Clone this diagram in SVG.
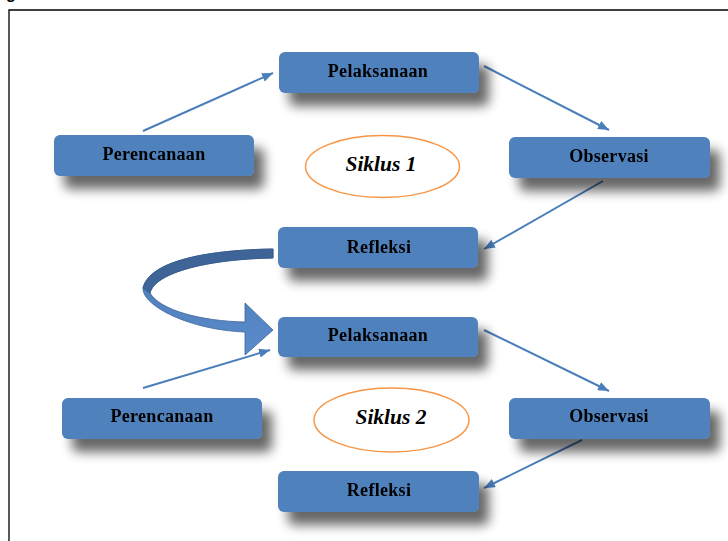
<svg xmlns="http://www.w3.org/2000/svg" width="728" height="541" viewBox="0 0 728 541">
<defs>
<filter id="sh" x="-20%" y="-40%" width="150%" height="220%">
<feGaussianBlur in="SourceAlpha" stdDeviation="6"/>
<feOffset dx="10" dy="13" result="b"/>
<feComponentTransfer><feFuncA type="linear" slope="0.6"/></feComponentTransfer>
<feMerge><feMergeNode/><feMergeNode in="SourceGraphic"/></feMerge>
</filter>
<marker id="ah" markerUnits="userSpaceOnUse" markerWidth="11" markerHeight="9" refX="11" refY="4.5" orient="auto">
<path d="M0,0 L11,4.5 L0,9 Z" fill="#4A7EBB"/>
</marker>
<linearGradient id="cg" x1="0" y1="0" x2="0" y2="1">
<stop offset="0" stop-color="#4A78B5"/>
<stop offset="1" stop-color="#5B8CCB"/>
</linearGradient>
</defs>
<style>
.box{fill:#4F81BD;}
.lbl{font-family:"Liberation Serif","Times New Roman",serif;font-weight:bold;font-size:18px;fill:#000;text-anchor:middle;letter-spacing:0.3px;}
.cyc{font-family:"Liberation Serif","Times New Roman",serif;font-weight:bold;font-style:italic;font-size:21.5px;fill:#000;text-anchor:middle;}
.ell{fill:#fff;stroke:#F79646;stroke-width:1.5;}
.con{stroke:#4A7EBB;stroke-width:2;fill:none;marker-end:url(#ah);}
</style>
<rect width="728" height="541" fill="#fff"/>
<text x="6" y="-1" font-family="Liberation Sans, Arial, sans-serif" font-weight="bold" font-size="16" fill="#000">g</text>
<path d="M9,541 L9,10 L728,10" fill="none" stroke="#000" stroke-width="1.3"/>

<g id="connectors">
<line class="con" x1="143" y1="131" x2="273" y2="73"/>
<line class="con" x1="484" y1="66" x2="609" y2="130"/>
<line class="con" x1="603" y1="181" x2="484" y2="249"/>
<line class="con" x1="143" y1="388" x2="270" y2="350"/>
<line class="con" x1="484" y1="330" x2="609" y2="391"/>
<line class="con" x1="582" y1="440" x2="484" y2="488"/>
<g id="curved-arrow">
<path d="M273,249 C210,250 150,260 143,288 C142,306 190,330 245,332 L245,355 L273,330 L245,303 L245,322 C200,321 160,310 150,293 C155,272 210,259 273,258 Z" fill="url(#cg)" stroke="#3A6399" stroke-width="0.8"/>
<path d="M273,249 C210,250 150,260 143,288 L150,293 C155,272 210,259 273,258 Z" fill="#3F6498" stroke="#36598A" stroke-width="0.8"/>
</g>
</g>

<g id="pelaksanaan1" filter="url(#sh)"><rect class="box" x="279" y="52" width="200" height="41" rx="6"/><text class="lbl" x="378" y="77">Pelaksanaan</text></g>
<g id="perencanaan1" filter="url(#sh)"><rect class="box" x="54" y="135" width="200" height="41" rx="6"/><text class="lbl" x="154" y="160">Perencanaan</text></g>
<g id="observasi1" filter="url(#sh)"><rect class="box" x="509" y="137" width="201" height="41" rx="6"/><text class="lbl" x="609" y="162">Observasi</text></g>
<g id="refleksi1" filter="url(#sh)"><rect class="box" x="278" y="227" width="200" height="41" rx="6"/><text class="lbl" x="379" y="253">Refleksi</text></g>
<g id="siklus1"><ellipse class="ell" cx="382.5" cy="166.5" rx="77" ry="31"/><text class="cyc" x="381" y="171">Siklus 1</text></g>

<g id="pelaksanaan2" filter="url(#sh)"><rect class="box" x="278" y="317" width="200" height="40" rx="6"/><text class="lbl" x="378" y="341">Pelaksanaan</text></g>
<g id="perencanaan2" filter="url(#sh)"><rect class="box" x="62" y="398" width="200" height="41" rx="6"/><text class="lbl" x="162" y="422">Perencanaan</text></g>
<g id="observasi2" filter="url(#sh)"><rect class="box" x="509" y="398" width="201" height="41" rx="6"/><text class="lbl" x="609" y="422">Observasi</text></g>
<g id="refleksi2" filter="url(#sh)"><rect class="box" x="278" y="471" width="201" height="41" rx="6"/><text class="lbl" x="379" y="496">Refleksi</text></g>
<g id="siklus2"><ellipse class="ell" cx="391.5" cy="420" rx="77.5" ry="32"/><text class="cyc" x="391" y="424">Siklus 2</text></g>
</svg>
